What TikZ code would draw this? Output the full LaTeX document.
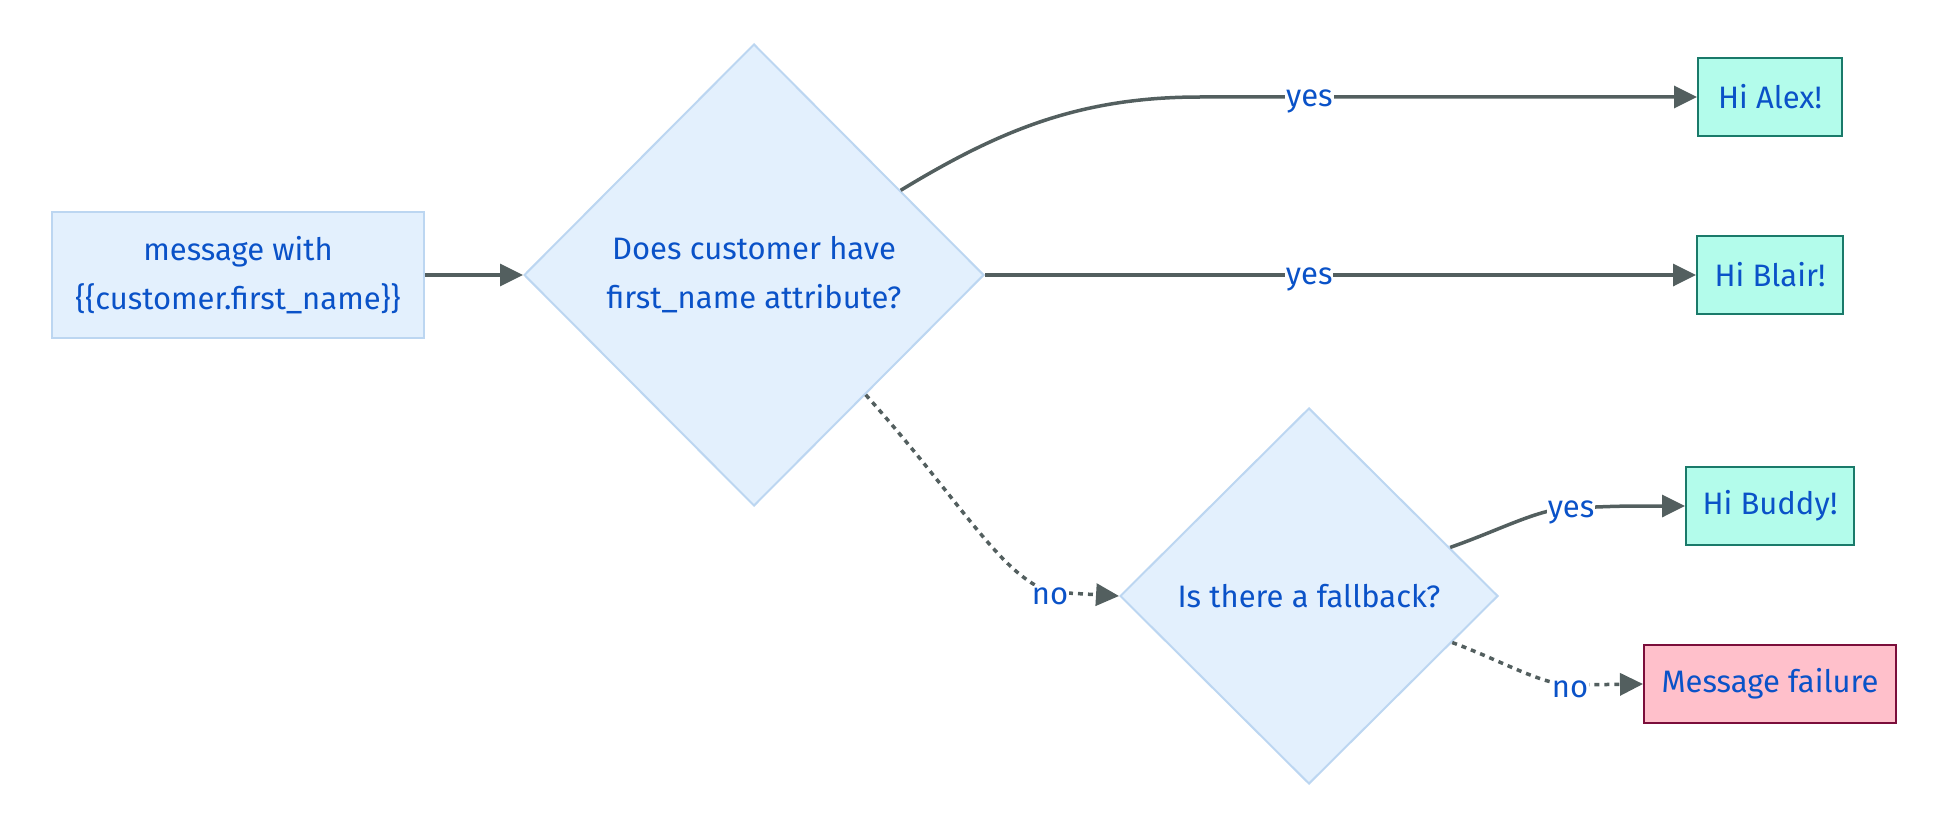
\documentclass[tikz,border=0pt]{standalone}
\usepackage{fontspec}
\setmainfont{Fira Sans}
\usetikzlibrary{shapes.geometric,arrows.meta}
\definecolor{txt}{HTML}{0A52C8}
\definecolor{bfill}{HTML}{E3F0FD}
\definecolor{bdraw}{HTML}{BCD6F1}
\definecolor{gfill}{HTML}{B3FCEB}
\definecolor{gdraw}{HTML}{1A7A6A}
\definecolor{pfill}{HTML}{FFC0CB}
\definecolor{pdraw}{HTML}{7B0E3B}
\definecolor{edge}{HTML}{535F5F}
\tikzset{
  every node/.style={font=\fontsize{31}{49}\selectfont, text=txt},
  bluebox/.style={draw=bdraw, fill=bfill, line width=2pt, minimum width=372pt, minimum height=126pt, align=center, inner sep=0pt},
  decision/.style={diamond, draw=bdraw, fill=bfill, line width=2pt, align=center, inner sep=0pt, shape aspect=1},
  greenbox/.style={draw=gdraw, fill=gfill, line width=2pt, minimum height=78pt, inner sep=0pt},
  pinkbox/.style={draw=pdraw, fill=pfill, line width=2pt, minimum height=78pt, inner sep=0pt},
  conn/.style={draw=edge, line width=3.5pt, -{Triangle[length=23pt,width=22pt]}},
  dconn/.style={conn, dash pattern=on 5pt off 5pt},
  elabel/.style={fill=white, inner sep=1pt, yshift=-4pt}
}
\begin{document}
\begin{tikzpicture}[x=1pt,y=-1pt]
\useasboundingbox (0,0) rectangle (1934,824);
\node[bluebox] (msg) at (238,275) {message with\\\{\{customer.first\_name\}\}};
\node[decision, minimum width=460pt, minimum height=462pt] (d1) at (754,275) {Does customer have\\first\_name attribute?};
\node[greenbox, minimum width=144pt] (alex) at (1770,97) {Hi Alex!};
\node[greenbox, minimum width=146pt] (blair) at (1770,275) {Hi Blair!};
\node[decision, minimum width=378pt, minimum height=376pt] (d2) at (1309,596) {Is there a fallback?};
\node[greenbox, minimum width=168pt] (buddy) at (1770,506) {Hi Buddy!};
\node[pinkbox, minimum width=252pt] (fail) at (1770,684) {Message failure};

\draw[conn] (msg.east) -- (d1.west);
\draw[conn] (d1.30) .. controls (1000,130) and (1080,97) .. (1200,97)
  -- node[elabel, pos=0.22] {yes} (alex.west);
\draw[conn] (d1.east) -- node[elabel, pos=0.456] {yes} (blair.west);
\draw[dconn] (d1.-47) .. controls (960,500) and (1000,575) .. (1050,592)
  node[elabel] {no} -- (d2.west);
\draw[conn] (d2.19) .. controls (1500,530) and (1540,508) .. (1571,508)
  node[elabel] {yes} .. controls (1620,506) .. (buddy.west);
\draw[dconn] (d2.-18.5) .. controls (1500,660) and (1540,684) .. (1570,685)
  node[elabel] {no} -- (fail.west);
\end{tikzpicture}
\end{document}
